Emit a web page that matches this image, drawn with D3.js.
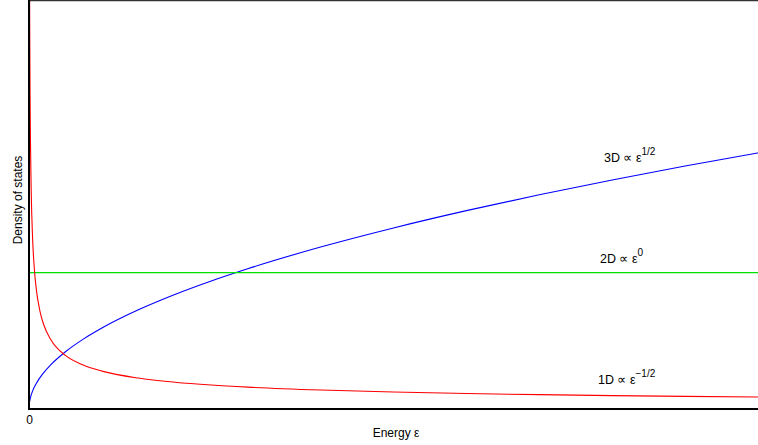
<!DOCTYPE html>
<html>
<head>
<meta charset="utf-8">
<script src="https://cdn.jsdelivr.net/npm/d3@7"></script>
<style>
  html, body { margin: 0; padding: 0; background: #fff; }
  svg { display: block; font-family: "Liberation Sans", Arial, Helvetica, sans-serif; }
</style>
</head>
<body>
<svg id="chart" width="758" height="445"></svg>
<script>
// Energy samples and density-of-states values for each dimensionality
const energy3D = [0, 0.002, 0.005, 0.01, 0.02, 0.05, 0.1, 0.2, 0.3, 0.5, 0.75, 1, 1.5, 2, 2.5, 3, 4, 5, 6, 7, 8, 9, 10];
const dos3D    = [0, 0.0266, 0.0420, 0.0594, 0.0840, 0.1328, 0.1878, 0.2656, 0.3253, 0.4200, 0.5144, 0.594, 0.7275, 0.8400, 0.9392, 1.0289, 1.188, 1.3282, 1.4550, 1.5716, 1.6801, 1.782, 1.8784];

const energy2D = [0, 10];
const dos2D    = [1, 1];

const energy1D = [0.008, 0.01, 0.015, 0.02, 0.03, 0.05, 0.075, 0.1, 0.15, 0.2, 0.3, 0.5, 0.75, 1, 1.5, 2, 2.5, 3, 4, 5, 6, 7, 8, 9, 10];
const dos1D    = [3.108, 2.78, 2.270, 1.966, 1.605, 1.2433, 1.0151, 0.8791, 0.7178, 0.6216, 0.5076, 0.3931, 0.3210, 0.278, 0.2270, 0.1966, 0.1758, 0.1605, 0.139, 0.1243, 0.1135, 0.1051, 0.0983, 0.0927, 0.0879];

const xTicks = [0];
const xTickLabels = ["0"];

const seriesLabels = [
  { name: "3D", exp: "1/2",  color: "#0000ff" },
  { name: "2D", exp: "0",    color: "#00e000" },
  { name: "1D", exp: "\u22121/2", color: "#ff0000" }
];

const svg = d3.select("#chart");
const W = 758, H = 445;
const margin = { left: 29, top: 1, right: 0, bottom: 36 };

const x = d3.scaleLinear().domain([0, 10]).range([margin.left, W - margin.right]);
const y = d3.scaleLinear().domain([0, 3]).range([H - margin.bottom, 0]);

svg.append("defs").append("clipPath").attr("id", "plot")
  .append("rect")
  .attr("x", margin.left).attr("y", 0)
  .attr("width", W - margin.left).attr("height", H - margin.bottom);

const line = d3.line()
  .x(d => x(d[0]))
  .y(d => y(d[1]))
  .curve(d3.curveMonotoneX);

const curves = [
  { e: energy3D, v: dos3D, color: seriesLabels[0].color },
  { e: energy2D, v: dos2D, color: seriesLabels[1].color },
  { e: energy1D, v: dos1D, color: seriesLabels[2].color }
];

const g = svg.append("g").attr("clip-path", "url(#plot)");
curves.forEach(c => {
  g.append("path")
    .datum(d3.zip(c.e, c.v))
    .attr("fill", "none")
    .attr("stroke", c.color)
    .attr("stroke-width", 1.1)
    .attr("d", line);
});

// frame: top edge
svg.append("line")
  .attr("x1", margin.left).attr("x2", W)
  .attr("y1", 0.5).attr("y2", 0.5)
  .attr("stroke", "#333").attr("stroke-width", 1.5);

// x axis
const xAxis = d3.axisBottom(x)
  .tickValues(xTicks)
  .tickFormat((d, i) => xTickLabels[i])
  .tickSize(0)
  .tickPadding(6);
const xa = svg.append("g")
  .attr("transform", `translate(0,${y(0)})`)
  .call(xAxis);
xa.select(".domain").remove();
xa.selectAll("text").attr("font-size", 12).attr("fill", "#000")
  .attr("font-family", "\"Liberation Sans\", Arial, sans-serif");

svg.append("line")
  .attr("x1", margin.left).attr("x2", W)
  .attr("y1", y(0)).attr("y2", y(0))
  .attr("stroke", "#000").attr("stroke-width", 2);

// y axis
svg.append("line")
  .attr("x1", margin.left).attr("x2", margin.left)
  .attr("y1", 0).attr("y2", y(0) + 1)
  .attr("stroke", "#000").attr("stroke-width", 2);

// axis titles
svg.append("text")
  .attr("x", 396).attr("y", 437)
  .attr("text-anchor", "middle").attr("font-size", 12)
  .text("Energy \u03b5");

svg.append("text")
  .attr("transform", `translate(21.5,200) rotate(-90)`)
  .attr("text-anchor", "middle").attr("font-size", 12)
  .text("Density of states");

// curve labels
const labelPos = [
  { x: 604, y: 162 },
  { x: 600, y: 263 },
  { x: 598, y: 384 }
];
seriesLabels.forEach((s, i) => {
  const t = svg.append("text")
    .attr("x", labelPos[i].x).attr("y", labelPos[i].y)
    .attr("font-size", 12.5).attr("fill", "#000");
  t.append("tspan").text(`${s.name} \u221d \u03b5`);
  t.append("tspan").attr("dy", -7).attr("font-size", 10).text(s.exp);
});
</script>
</body>
</html>
